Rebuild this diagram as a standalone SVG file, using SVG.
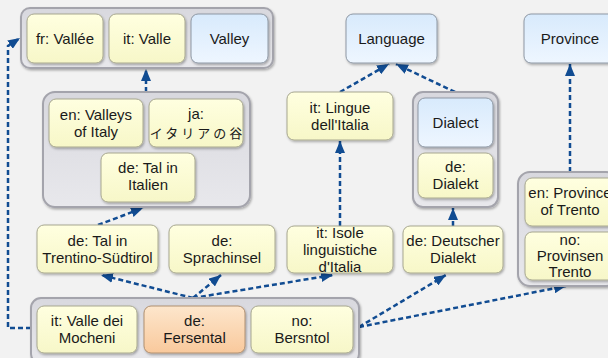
<svg xmlns="http://www.w3.org/2000/svg" width="608" height="358" viewBox="0 0 608 358">
<defs>
<linearGradient id="gy" x1="0" y1="0" x2="0" y2="1"><stop offset="0" stop-color="#ffffe0"/><stop offset="1" stop-color="#f7f7c8"/></linearGradient>
<linearGradient id="gb" x1="0" y1="0" x2="0" y2="1"><stop offset="0" stop-color="#d8eafc"/><stop offset="1" stop-color="#eef6ff"/></linearGradient>
<linearGradient id="go" x1="0" y1="0" x2="0" y2="1"><stop offset="0" stop-color="#fde6cc"/><stop offset="1" stop-color="#f9c99c"/></linearGradient>
<linearGradient id="gg" x1="0" y1="0" x2="0" y2="1"><stop offset="0" stop-color="#d8d8de"/><stop offset="1" stop-color="#e8e8ec"/></linearGradient>
<filter id="sh" x="-10%" y="-10%" width="130%" height="130%"><feDropShadow dx="1" dy="1.5" stdDeviation="1" flood-color="#000" flood-opacity="0.3"/></filter>
<marker id="ah" viewBox="0 0 12 10" refX="12" refY="5" markerWidth="12" markerHeight="10" markerUnits="userSpaceOnUse" orient="auto"><path d="M0,0 L12,5 L0,10 z" fill="#114c92"/></marker>
</defs>
<style>
.grp{fill:url(#gg);stroke:#a4a4ac;stroke-width:2;filter:url(#sh)}
.y{fill:url(#gy);stroke:#a8a890;stroke-width:1;filter:url(#sh)}
.b{fill:url(#gb);stroke:#8e98a4;stroke-width:1;filter:url(#sh)}
.o{fill:url(#go);stroke:#b09070;stroke-width:1;filter:url(#sh)}
text{font-family:"Liberation Sans",Arial,"Noto Sans CJK JP",sans-serif;font-size:15px;fill:#1a1a1a;text-anchor:middle}
.jp{font-family:"Noto Sans CJK JP",sans-serif;font-size:13px;letter-spacing:3px}
.c{fill:none;stroke:#114c92;stroke-width:2.5;stroke-dasharray:5 3;marker-end:url(#ah)}
</style>
<rect width="608" height="358" fill="#f2f2f2"/>

<g id="connectors">
<path class="c" d="M31,328 H8 V46 L20,38"/>
<path class="c" d="M146,92 V69"/>
<path class="c" d="M340,92 L389,64"/>
<path class="c" d="M455,92 L396,64"/>
<path class="c" d="M570,172 V64"/>
<path class="c" d="M98,225 L143,208"/>
<path class="c" d="M193,298 L101,275"/>
<path class="c" d="M193,298 L221,275"/>
<path class="c" d="M193,298 L333,275"/>
<path class="c" d="M340,226 V141"/>
<path class="c" d="M453,226 V208"/>
<path class="c" d="M359,327 L446,275"/>
<path class="c" d="M359,327 L566,286"/>
</g>

<g id="grp-valley"><rect class="grp" x="21" y="8" width="252" height="60" rx="9"/></g>
<g id="n-fr-vallee"><rect class="y" x="27" y="14" width="76" height="49" rx="7"/><text x="65" y="44">fr: Vallée</text></g>
<g id="n-it-valle"><rect class="y" x="109" y="14" width="76" height="49" rx="7"/><text x="147" y="44">it: Valle</text></g>
<g id="n-valley"><rect class="b" x="191" y="14" width="77" height="49" rx="7"/><text x="229.5" y="44">Valley</text></g>

<g id="n-language"><rect class="b" x="346" y="14" width="91" height="49" rx="7"/><text x="391.5" y="44">Language</text></g>
<g id="n-province"><rect class="b" x="524" y="14" width="92" height="49" rx="7"/><text x="570" y="44">Province</text></g>

<g id="grp-italy"><rect class="grp" x="43" y="92" width="207" height="115" rx="12"/></g>
<g id="n-en-valleys"><rect class="y" x="49" y="99" width="94" height="48" rx="7"/><text x="96" y="120">en: Valleys</text><text x="96" y="137">of Italy</text></g>
<g id="n-ja"><rect class="y" x="149" y="99" width="94" height="48" rx="7"/><text x="196" y="119">ja:</text><text class="jp" x="197.5" y="138">イタリアの谷</text></g>
<g id="n-de-tal-italien"><rect class="y" x="101" y="153" width="94" height="49" rx="7"/><text x="148" y="173">de: Tal in</text><text x="148" y="190">Italien</text></g>

<g id="n-it-lingue"><rect class="y" x="287" y="92" width="106" height="48" rx="7"/><text x="340" y="113">it: Lingue</text><text x="340" y="130">dell'Italia</text></g>

<g id="grp-dialect"><rect class="grp" x="413" y="92" width="85" height="115" rx="10"/></g>
<g id="n-dialect"><rect class="b" x="418" y="98" width="75" height="49" rx="7"/><text x="455.5" y="128">Dialect</text></g>
<g id="n-de-dialekt"><rect class="y" x="418" y="153" width="75" height="45" rx="7"/><text x="455.5" y="172">de:</text><text x="455.5" y="189">Dialekt</text></g>

<g id="grp-trento"><rect class="grp" x="518" y="172" width="100" height="114" rx="12"/></g>
<g id="n-en-province"><rect class="y" x="525" y="178" width="90" height="48" rx="7"/><text x="570" y="198">en: Province</text><text x="570" y="215">of Trento</text></g>
<g id="n-no-provinsen"><rect class="y" x="525" y="232" width="90" height="48" rx="7"/><text x="570" y="245">no:</text><text x="570" y="261">Provinsen</text><text x="570" y="277">Trento</text></g>

<g id="n-de-tal-trentino"><rect class="y" x="37" y="225" width="121" height="48" rx="7"/><text x="97.5" y="246">de: Tal in</text><text x="97.5" y="263">Trentino-Südtirol</text></g>
<g id="n-de-sprachinsel"><rect class="y" x="169" y="225" width="106" height="48" rx="7"/><text x="222" y="246">de:</text><text x="222" y="263">Sprachinsel</text></g>
<g id="n-it-isole"><rect class="y" x="287" y="226" width="106" height="47" rx="7"/><text x="340" y="238">it: Isole</text><text x="340" y="255">linguistiche</text><text x="340" y="272">d'Italia</text></g>
<g id="n-de-deutscher"><rect class="y" x="403" y="226" width="100" height="47" rx="7"/><text x="453" y="246">de: Deutscher</text><text x="453" y="263">Dialekt</text></g>

<g id="grp-fersental"><rect class="grp" x="31" y="298" width="328" height="66" rx="10"/></g>
<g id="n-it-mocheni"><rect class="y" x="37" y="306" width="100" height="47" rx="7"/><text x="87" y="326">it: Valle dei</text><text x="87" y="343">Mocheni</text></g>
<g id="n-de-fersental"><rect class="o" x="144" y="306" width="101" height="47" rx="7"/><text x="194.5" y="326">de:</text><text x="194.5" y="343">Fersental</text></g>
<g id="n-no-bersntol"><rect class="y" x="251" y="306" width="102" height="47" rx="7"/><text x="302" y="326">no:</text><text x="302" y="343">Bersntol</text></g>
</svg>
